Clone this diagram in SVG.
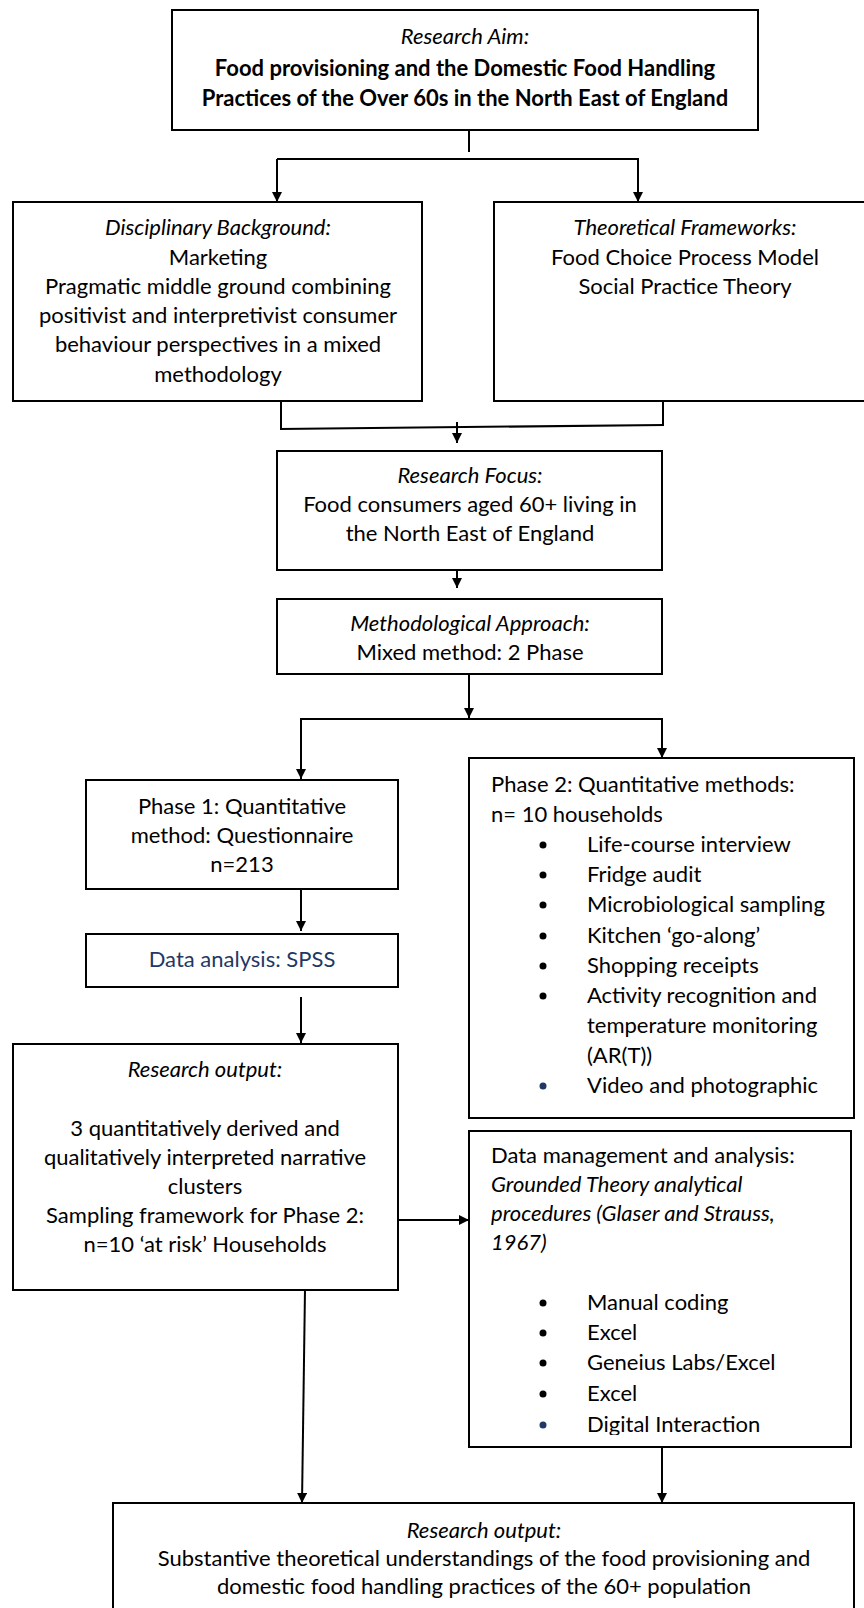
<svg xmlns="http://www.w3.org/2000/svg" width="864" height="1608" viewBox="0 0 864 1608">
  <style>
    .box { fill: #ffffff; stroke: #000000; stroke-width: 2; }
    .t { font-family: "Lato", "Open Sans", "Liberation Sans", sans-serif; font-size: 22px; fill: #000000; }
    .c { text-anchor: middle; }
    .i { font-style: italic; }
    .b { font-weight: bold; }
    .blue { fill: #1F3864; }
    .con { fill: none; stroke: #000000; stroke-width: 2; }
    .dot { fill: #000000; }
    .dotblue { fill: #1F3864; }
  </style>
  <defs>
    <marker id="arrow" viewBox="0 0 10 10" refX="10" refY="5" markerWidth="11" markerHeight="10" markerUnits="userSpaceOnUse" orient="auto">
      <path d="M0,0 L10,5 L0,10 z" fill="#000000"/>
    </marker>
    <clipPath id="dmclip">
      <rect x="469" y="1131" width="382" height="304"/>
    </clipPath>
  </defs>
  <rect x="0" y="0" width="864" height="1608" fill="#ffffff"/>

  <!-- connectors -->
  <g id="connectors">
    <line class="con" x1="469" y1="130" x2="469" y2="152"/>
    <line class="con" x1="277" y1="159" x2="639" y2="159"/>
    <line class="con" x1="277" y1="159" x2="277" y2="202" marker-end="url(#arrow)"/>
    <line class="con" x1="638" y1="159" x2="638" y2="202" marker-end="url(#arrow)"/>

    <line class="con" x1="281" y1="401" x2="281" y2="428"/>
    <line class="con" x1="663" y1="398" x2="663" y2="425"/>
    <line class="con" x1="280" y1="429" x2="664" y2="425"/>
    <line class="con" x1="457" y1="422" x2="457" y2="443" marker-end="url(#arrow)"/>

    <line class="con" x1="457" y1="567" x2="457" y2="588" marker-end="url(#arrow)"/>

    <line class="con" x1="469" y1="674" x2="469" y2="718" marker-end="url(#arrow)"/>
    <line class="con" x1="300" y1="719" x2="663" y2="719"/>
    <line class="con" x1="301" y1="718" x2="301" y2="779" marker-end="url(#arrow)"/>
    <line class="con" x1="662" y1="718" x2="662" y2="758" marker-end="url(#arrow)"/>

    <line class="con" x1="301" y1="887" x2="301" y2="931" marker-end="url(#arrow)"/>
    <line class="con" x1="301" y1="997" x2="301" y2="1043" marker-end="url(#arrow)"/>

    <line class="con" x1="398" y1="1220" x2="469" y2="1220" marker-end="url(#arrow)"/>

    <line class="con" x1="305" y1="1289" x2="302" y2="1503" marker-end="url(#arrow)"/>
    <line class="con" x1="662" y1="1436" x2="662" y2="1503" marker-end="url(#arrow)"/>
  </g>

  <g id="research-aim">
    <rect class="box" x="172" y="10" width="586" height="120"/>
    <text class="t c i" x="465" y="44">Research Aim:</text>
    <text class="t c b" x="465" y="76">Food provisioning and the Domestic Food Handling</text>
    <text class="t c b" x="465" y="106">Practices of the Over 60s in the North East of England</text>
  </g>

  <g id="disciplinary-background">
    <rect class="box" x="13" y="202" width="409" height="199"/>
    <text class="t c i" x="218" y="235">Disciplinary Background:</text>
    <text class="t c" x="218" y="265">Marketing</text>
    <text class="t c" x="218" y="294">Pragmatic middle ground combining</text>
    <text class="t c" x="218" y="323">positivist and interpretivist consumer</text>
    <text class="t c" x="218" y="352">behaviour perspectives in a mixed</text>
    <text class="t c" x="218" y="382">methodology</text>
  </g>

  <g id="theoretical-frameworks">
    <rect class="box" x="494" y="202" width="390" height="199"/>
    <text class="t c i" x="685" y="235">Theoretical Frameworks:</text>
    <text class="t c" x="685" y="265">Food Choice Process Model</text>
    <text class="t c" x="685" y="294">Social Practice Theory</text>
  </g>

  <g id="research-focus">
    <rect class="box" x="277" y="451" width="385" height="119"/>
    <text class="t c i" x="470" y="483">Research Focus:</text>
    <text class="t c" x="470" y="512">Food consumers aged 60+ living in</text>
    <text class="t c" x="470" y="541">the North East of England</text>
  </g>

  <g id="methodological-approach">
    <rect class="box" x="277" y="599" width="385" height="75"/>
    <text class="t c i" x="470" y="631">Methodological Approach:</text>
    <text class="t c" x="470" y="660">Mixed method: 2 Phase</text>
  </g>

  <g id="phase-1">
    <rect class="box" x="86" y="780" width="312" height="109"/>
    <text class="t c" x="242" y="814">Phase 1: Quantitative</text>
    <text class="t c" x="242" y="843">method: Questionnaire</text>
    <text class="t c" x="242" y="872">n=213</text>
  </g>

  <g id="data-analysis-spss">
    <rect class="box" x="86" y="934" width="312" height="53"/>
    <text class="t c blue" x="242" y="967">Data analysis: SPSS</text>
  </g>

  <g id="research-output-1">
    <rect class="box" x="13" y="1044" width="385" height="246"/>
    <text class="t c i" x="205" y="1077">Research output:</text>
    <text class="t c" x="205" y="1136">3 quantitatively derived and</text>
    <text class="t c" x="205" y="1165">qualitatively interpreted narrative</text>
    <text class="t c" x="205" y="1194">clusters</text>
    <text class="t c" x="205" y="1223">Sampling framework for Phase 2:</text>
    <text class="t c" x="205" y="1252">n=10 ‘at risk’ Households</text>
  </g>

  <g id="phase-2">
    <rect class="box" x="469" y="758" width="385" height="360"/>
    <text class="t" x="491" y="792">Phase 2: Quantitative methods:</text>
    <text class="t" x="491" y="822">n= 10 households</text>
    <circle class="dot" cx="543" cy="845" r="3.5"/>
    <text class="t" x="587" y="852">Life-course interview</text>
    <circle class="dot" cx="543" cy="875" r="3.5"/>
    <text class="t" x="587" y="882">Fridge audit</text>
    <circle class="dot" cx="543" cy="905" r="3.5"/>
    <text class="t" x="587" y="912">Microbiological sampling</text>
    <circle class="dot" cx="543" cy="936" r="3.5"/>
    <text class="t" x="587" y="943">Kitchen ‘go-along’</text>
    <circle class="dot" cx="543" cy="966" r="3.5"/>
    <text class="t" x="587" y="973">Shopping receipts</text>
    <circle class="dot" cx="543" cy="996" r="3.5"/>
    <text class="t" x="587" y="1003">Activity recognition and</text>
    <text class="t" x="587" y="1033">temperature monitoring</text>
    <text class="t" x="587" y="1063">(AR(T))</text>
    <circle class="dotblue" cx="543" cy="1086" r="3.5"/>
    <text class="t" x="587" y="1093">Video and photographic</text>
  </g>

  <g id="data-management">
    <rect class="box" x="469" y="1131" width="382" height="316"/>
    <text class="t" x="491" y="1163">Data management and analysis:</text>
    <text class="t i" x="491" y="1192">Grounded Theory analytical</text>
    <text class="t i" x="491" y="1221">procedures (Glaser and Strauss,</text>
    <text class="t i" x="491" y="1250">1967)</text>
    <circle class="dot" cx="543" cy="1303" r="3.5"/>
    <text class="t" x="587" y="1310">Manual coding</text>
    <circle class="dot" cx="543" cy="1333" r="3.5"/>
    <text class="t" x="587" y="1340">Excel</text>
    <circle class="dot" cx="543" cy="1363" r="3.5"/>
    <text class="t" x="587" y="1370">Geneius Labs/Excel</text>
    <circle class="dot" cx="543" cy="1394" r="3.5"/>
    <text class="t" x="587" y="1401">Excel</text>
    <circle class="dotblue" cx="543" cy="1425" r="3.5"/>
    <text class="t" x="587" y="1432" clip-path="url(#dmclip)">Digital Interaction</text>
  </g>

  <g id="research-output-final">
    <rect class="box" x="113" y="1503" width="741" height="130"/>
    <text class="t c i" x="484" y="1538">Research output:</text>
    <text class="t c" x="484" y="1566">Substantive theoretical understandings of the food provisioning and</text>
    <text class="t c" x="484" y="1594">domestic food handling practices of the 60+ population</text>
  </g>
</svg>
